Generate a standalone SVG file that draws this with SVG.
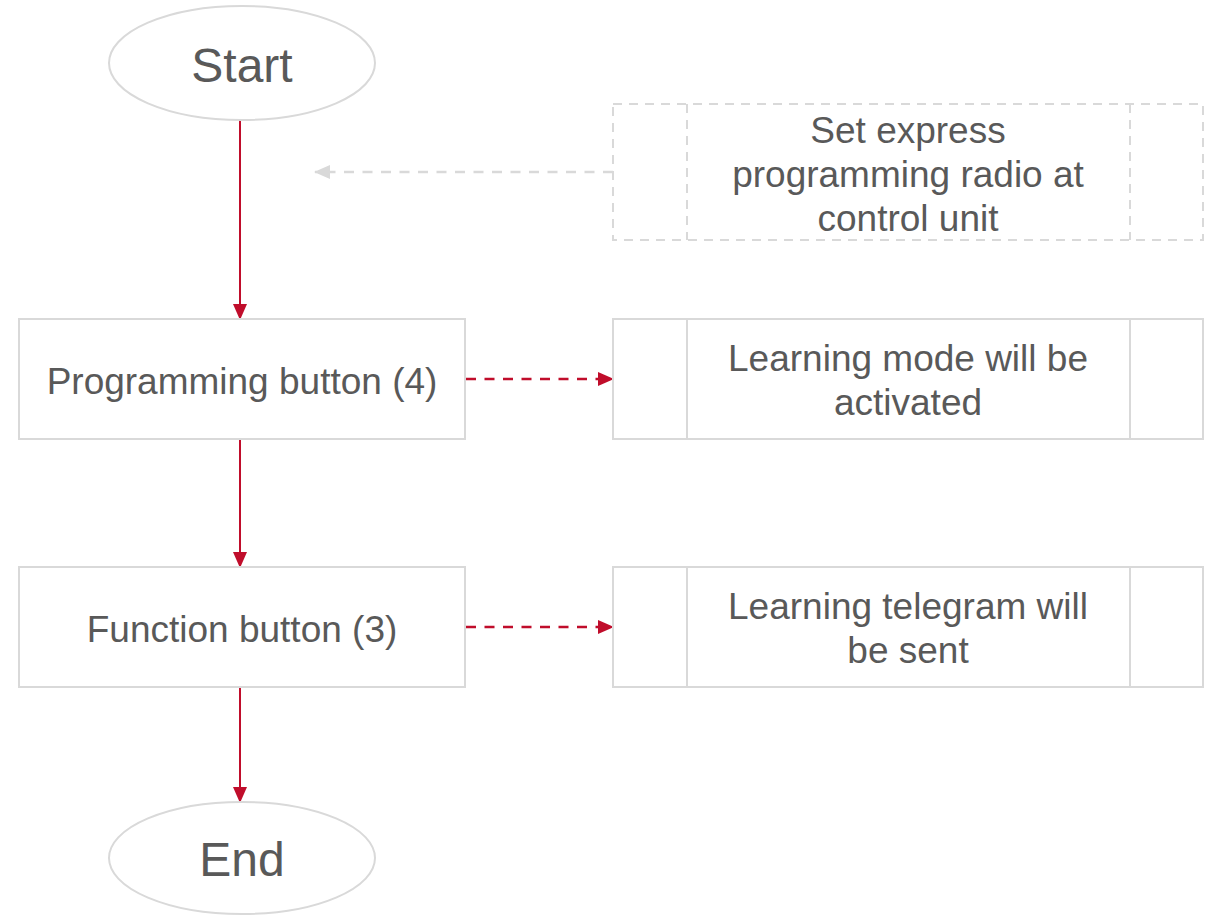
<svg xmlns="http://www.w3.org/2000/svg" width="1210" height="916" viewBox="0 0 1210 916">
<style>
.shape{fill:#fff;stroke:#d9d9d9;stroke-width:2}
.dash{fill:none;stroke:#d9d9d9;stroke-width:2;stroke-dasharray:9 7}
.t{font-family:"Liberation Sans",Arial,sans-serif;fill:#595959;text-anchor:middle}
.red{stroke:#c00d2b;stroke-width:2;fill:none}
.reddash{stroke:#c00d2b;stroke-width:2.5;fill:none;stroke-dasharray:10 8.5}
.greydash{stroke:#d9d9d9;stroke-width:2.5;fill:none;stroke-dasharray:10 8.5}
</style>
<defs>
<marker id="ag" markerWidth="16" markerHeight="16" refX="15" refY="8" orient="auto" markerUnits="userSpaceOnUse" viewBox="0 0 16 16"><path d="M0,1 L16,8 L0,15 z" fill="#d9d9d9"/></marker>
<marker id="ar2" markerWidth="16" markerHeight="16" refX="15" refY="8" orient="auto" markerUnits="userSpaceOnUse" viewBox="0 0 16 16"><path d="M0,1 L16,8 L0,15 z" fill="#c00d2b"/></marker>
</defs>
<g id="connectors">
<line class="red" x1="240" y1="120" x2="240" y2="319" marker-end="url(#ar2)"/>
<line class="red" x1="240" y1="439" x2="240" y2="567" marker-end="url(#ar2)"/>
<line class="red" x1="240" y1="687" x2="240" y2="802" marker-end="url(#ar2)"/>
<line class="reddash" x1="466" y1="379" x2="613" y2="379" marker-end="url(#ar2)"/>
<line class="reddash" x1="466" y1="627" x2="613" y2="627" marker-end="url(#ar2)"/>
<line class="greydash" x1="613" y1="172" x2="315" y2="172" marker-end="url(#ag)"/>
</g>
<g id="start">
<ellipse class="shape" cx="242" cy="63" rx="133" ry="57"/>
<text class="t" x="242" y="82" font-size="48">Start</text>
</g>
<g id="express">
<rect class="dash" x="613" y="104" width="590" height="136"/>
<line class="dash" x1="687" y1="104" x2="687" y2="240"/>
<line class="dash" x1="1130" y1="104" x2="1130" y2="240"/>
<text class="t" font-size="37"><tspan x="908" y="143">Set express</tspan><tspan x="908" y="187">programming radio at</tspan><tspan x="908" y="231">control unit</tspan></text>
</g>
<g id="prog">
<rect class="shape" x="19" y="319" width="446" height="120"/>
<text class="t" x="242" y="394" font-size="37">Programming button (4)</text>
</g>
<g id="learnmode">
<rect class="shape" x="613" y="319" width="590" height="120"/>
<line class="shape" x1="687" y1="319" x2="687" y2="439"/>
<line class="shape" x1="1130" y1="319" x2="1130" y2="439"/>
<text class="t" font-size="37"><tspan x="908" y="371">Learning mode will be</tspan><tspan x="908" y="415">activated</tspan></text>
</g>
<g id="func">
<rect class="shape" x="19" y="567" width="446" height="120"/>
<text class="t" x="242" y="642" font-size="37">Function button (3)</text>
</g>
<g id="telegram">
<rect class="shape" x="613" y="567" width="590" height="120"/>
<line class="shape" x1="687" y1="567" x2="687" y2="687"/>
<line class="shape" x1="1130" y1="567" x2="1130" y2="687"/>
<text class="t" font-size="37"><tspan x="908" y="619">Learning telegram will</tspan><tspan x="908" y="663">be sent</tspan></text>
</g>
<g id="end">
<ellipse class="shape" cx="242" cy="858" rx="133" ry="56"/>
<text class="t" x="242" y="876" font-size="48">End</text>
</g>
</svg>
